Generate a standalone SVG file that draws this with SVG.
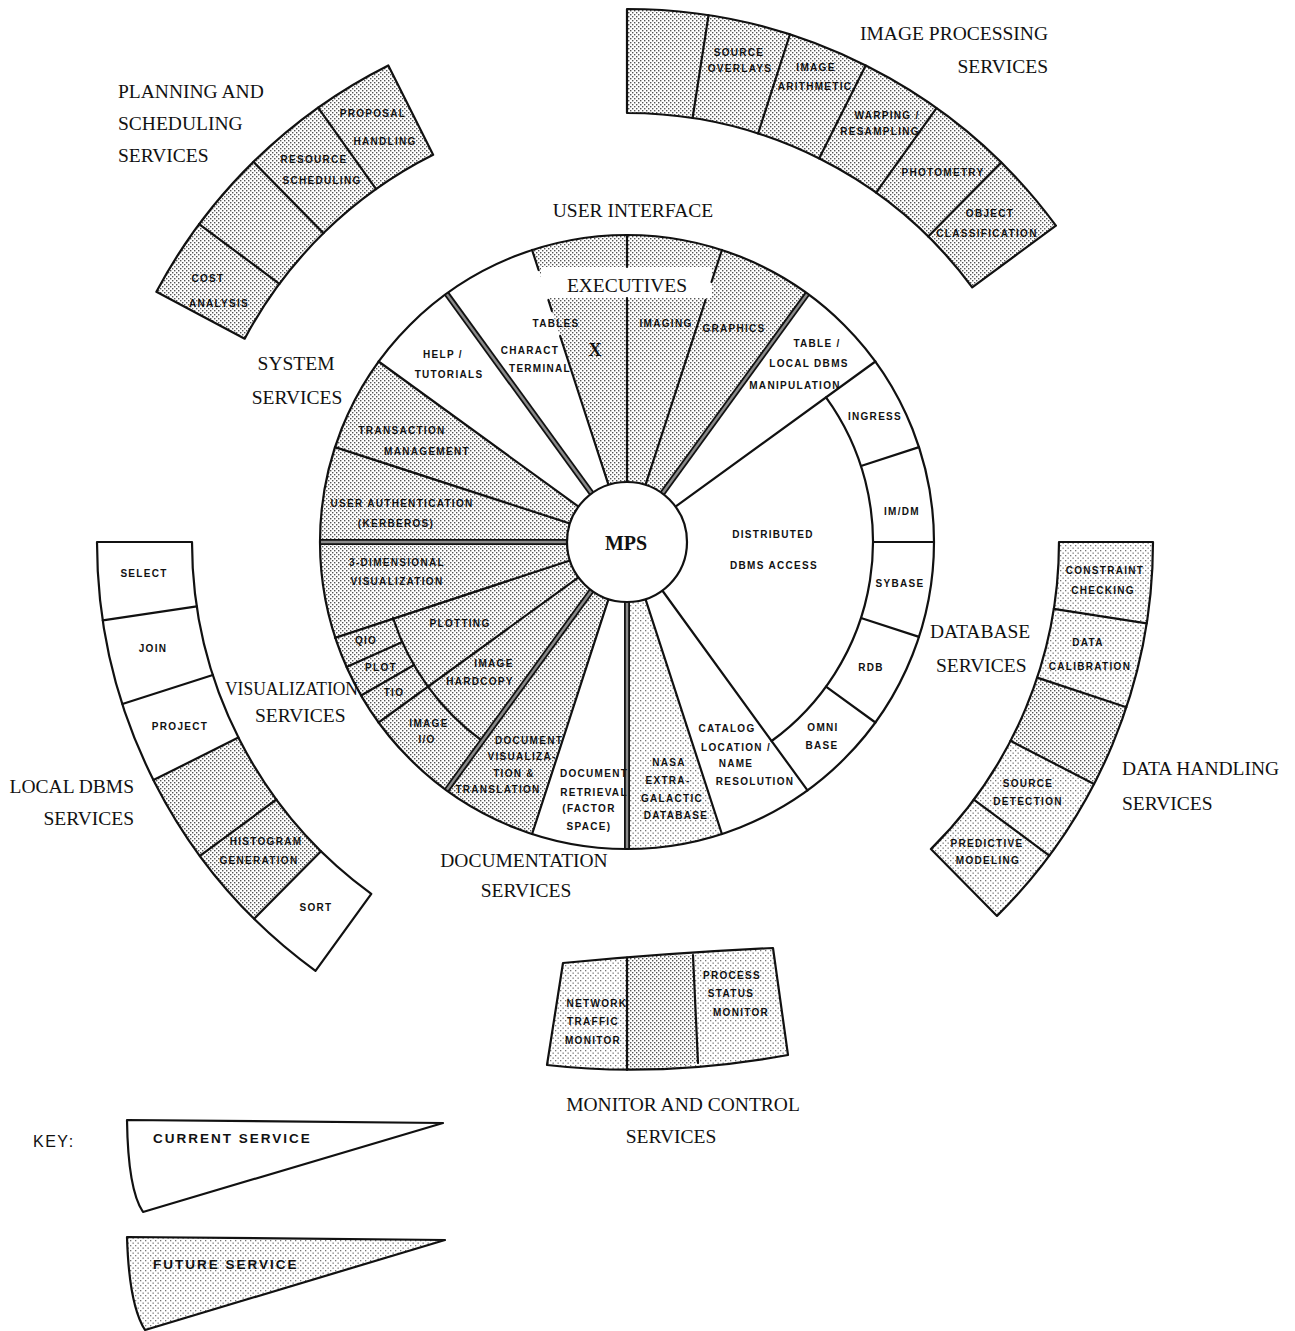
<svg xmlns="http://www.w3.org/2000/svg" width="1295" height="1331" viewBox="0 0 1295 1331">
<defs>
<pattern id="dots" width="4" height="4" patternUnits="userSpaceOnUse"><rect width="4" height="4" fill="#fff"/><rect x="0" y="0" width="1.4" height="1.4" fill="#555"/><rect x="2" y="2" width="1.4" height="1.4" fill="#555"/></pattern>
<pattern id="ldots" width="5" height="5" patternUnits="userSpaceOnUse"><rect width="5" height="5" fill="#fff"/><rect x="0" y="0" width="1.3" height="1.3" fill="#777"/><rect x="2.5" y="2.5" width="1.3" height="1.3" fill="#777"/></pattern>
<style>
.t{font-family:"Liberation Serif","Times New Roman",serif;font-size:19.5px;fill:#111}
.s{font-family:"Liberation Sans",Arial,sans-serif;font-weight:bold;font-size:10px;letter-spacing:1.3px;text-anchor:middle;fill:#111}
.k{font-family:"Liberation Sans",Arial,sans-serif;font-weight:bold;font-size:13.5px;letter-spacing:2px;fill:#111}
.ln{stroke:#111;stroke-width:2.2;fill:none;stroke-linecap:round}
.ol{stroke:#111;stroke-width:2.2;fill:none;stroke-linejoin:round}
.thk{stroke:#111;stroke-width:6;stroke-linecap:butt}
.thi{stroke:#8a8a8a;stroke-width:2.4;stroke-linecap:butt}
.sh{fill:url(#dots);stroke:none}
.lsh{fill:url(#ldots);stroke:none}
.m{text-anchor:middle}
.e{text-anchor:end}
</style>
</defs>
<rect width="1295" height="1331" fill="#fff"/>

<!-- ===== Outer ring: planning and scheduling ===== -->
<g id="planning-ring">
<path class="sh" d="M244.7 338.7 L156.4 291.8 A533 533 0 0 1 388.3 65.4 L433.1 154.8 A433 433 0 0 0 244.7 338.7 Z"/>
<path class="ol" d="M244.7 338.7 L156.4 291.8 A533 533 0 0 1 388.3 65.4 L433.1 154.8 A433 433 0 0 0 244.7 338.7 Z"/>
<line class="ln" x1="279.4" y1="283.8" x2="199.1" y2="224.2"/>
<line class="ln" x1="323.5" y1="233.2" x2="253.4" y2="161.8"/>
<line class="ln" x1="376.1" y1="189.1" x2="318.1" y2="107.6"/>
<g id="proposal-handling"><text class="s" x="373" y="116.5">PROPOSAL</text><text class="s" x="385" y="144.5">HANDLING</text></g>
<g id="resource-scheduling"><text class="s" x="314" y="162.5">RESOURCE</text><text class="s" x="322" y="183.5">SCHEDULING</text></g>
<g id="cost-analysis"><text class="s" x="208" y="281.5">COST</text><text class="s" x="219" y="306.5">ANALYSIS</text></g>
</g>
<g id="planning-title"><text class="t" x="118" y="98">PLANNING AND</text><text class="t" x="118" y="130">SCHEDULING</text><text class="t" x="118" y="162">SERVICES</text></g>

<!-- ===== Outer ring: image processing ===== -->
<g id="image-ring">
<path class="sh" d="M627 113 L627 9 A533 533 0 0 1 1055.9 225.6 L972.2 287.3 A429 429 0 0 0 627 113 Z"/>
<path class="ol" d="M627 113 L627 9 A533 533 0 0 1 1055.9 225.6 L972.2 287.3 A429 429 0 0 0 627 113 Z"/>
<line class="ln" x1="692.6" y1="118" x2="708.5" y2="15.3"/>
<line class="ln" x1="758.1" y1="133.5" x2="789.9" y2="34.5"/>
<line class="ln" x1="819.1" y1="158.4" x2="865.7" y2="65.4"/>
<line class="ln" x1="876.1" y1="192.7" x2="936.5" y2="108.1"/>
<line class="ln" x1="928.2" y1="236.5" x2="1001.2" y2="162.5"/>
<g id="source-overlays"><text class="s" x="739" y="55.5">SOURCE</text><text class="s" x="740" y="71.5">OVERLAYS</text></g>
<g id="image-arithmetic"><text class="s" x="816" y="70.5">IMAGE</text><text class="s" x="815" y="89.5">ARITHMETIC</text></g>
<g id="warping-resampling"><text class="s" x="887" y="118.5">WARPING /</text><text class="s" x="880" y="134.5">RESAMPLING</text></g>
<g id="photometry"><text class="s" x="943" y="175.5">PHOTOMETRY</text></g>
<g id="object-classification"><text class="s" x="990" y="216.5">OBJECT</text><text class="s" x="987" y="236.5">CLASSIFICATION</text></g>
</g>
<g id="image-title"><text class="t e" x="1048" y="40">IMAGE PROCESSING</text><text class="t e" x="1048" y="73">SERVICES</text></g>

<!-- ===== Outer ring: local DBMS ===== -->
<g id="localdbms-ring">
<path class="sh" d="M321 851.2 L254.2 918.7 A530 530 0 0 1 153.5 780.1 L238.4 737.5 A435 435 0 0 0 321 851.2 Z"/>
<path class="ol" d="M371.3 893.9 L315.5 970.8 A530 530 0 0 1 97 542 L192 542 A435 435 0 0 0 371.3 893.9 Z"/>
<line class="ln" x1="196.8" y1="606.3" x2="102.8" y2="620.3"/>
<line class="ln" x1="212.8" y1="675" x2="122.4" y2="704"/>
<line class="ln" x1="238.4" y1="737.5" x2="153.5" y2="780.1"/>
<line class="ln" x1="276.4" y1="799.5" x2="199.9" y2="855.8"/>
<line class="ln" x1="321" y1="851.2" x2="254.2" y2="918.7"/>
<g id="select"><text class="s" x="144" y="576.5">SELECT</text></g>
<g id="join"><text class="s" x="153" y="651.5">JOIN</text></g>
<g id="project"><text class="s" x="180" y="729.5">PROJECT</text></g>
<g id="histogram-generation"><text class="s" x="266" y="844.5">HISTOGRAM</text><text class="s" x="259" y="863.5">GENERATION</text></g>
<g id="sort"><text class="s" x="316" y="910.5">SORT</text></g>
</g>
<g id="localdbms-title"><text class="t e" x="134" y="792.5">LOCAL DBMS</text><text class="t e" x="134" y="824.5">SERVICES</text></g>

<!-- ===== Outer ring: data handling ===== -->
<g id="datahandling-ring">
<path class="lsh" d="M1059 542 L1153 542 A526 526 0 0 1 997 915.9 L930.9 849.1 A432 432 0 0 0 1059 542 Z"/>
<path class="sh" d="M1037.2 677.6 L1126.4 707.2 A526 526 0 0 1 1094 784.1 L1010.5 740.8 A432 432 0 0 0 1037.2 677.6 Z"/>
<path class="ol" d="M1059 542 L1153 542 A526 526 0 0 1 997 915.9 L930.9 849.1 A432 432 0 0 0 1059 542 Z"/>
<line class="ln" x1="1053.8" y1="608.8" x2="1146.7" y2="623.4"/>
<line class="ln" x1="1037.2" y1="677.6" x2="1126.4" y2="707.2"/>
<line class="ln" x1="1010.5" y1="740.8" x2="1094" y2="784.1"/>
<line class="ln" x1="973.8" y1="799.6" x2="1049.3" y2="855.6"/>
<g id="constraint-checking"><text class="s" x="1105" y="573.5">CONSTRAINT</text><text class="s" x="1103" y="593.5">CHECKING</text></g>
<g id="data-calibration"><text class="s" x="1088" y="645.5">DATA</text><text class="s" x="1090" y="669.5">CALIBRATION</text></g>
<g id="source-detection"><text class="s" x="1028" y="786.5">SOURCE</text><text class="s" x="1028" y="804.5">DETECTION</text></g>
<g id="predictive-modeling"><text class="s" x="987" y="846.5">PREDICTIVE</text><text class="s" x="988" y="863.5">MODELING</text></g>
</g>
<g id="datahandling-title"><text class="t" x="1122" y="774.5">DATA HANDLING</text><text class="t" x="1122" y="809.5">SERVICES</text></g>

<!-- ===== Outer ring: monitor and control ===== -->
<g id="monitor-ring">
<path class="lsh" d="M563 963 Q668 953 773 948 L788 1055 Q660 1078 547 1065 Z"/>
<path class="sh" d="M627 957.5 Q660 955 693 955 L698 1063 Q662 1070 627 1070 Z"/>
<path class="ol" d="M563 963 Q668 953 773 948 L788 1055 Q660 1078 547 1065 Z"/>
<line class="ln" x1="627" y1="957.5" x2="627" y2="1070"/>
<line class="ln" x1="693" y1="955" x2="698" y2="1063"/>
<g id="network-traffic-monitor"><text class="s" x="597" y="1006.5">NETWORK</text><text class="s" x="593" y="1024.5">TRAFFIC</text><text class="s" x="593" y="1043.5">MONITOR</text></g>
<g id="process-status-monitor"><text class="s" x="732" y="978.5">PROCESS</text><text class="s" x="731" y="996.5">STATUS</text><text class="s" x="741" y="1015.5">MONITOR</text></g>
</g>
<g id="monitor-title"><text class="t m" x="683" y="1110.5">MONITOR AND CONTROL</text><text class="t m" x="671" y="1142.5">SERVICES</text></g>

<!-- ===== Main wheel ===== -->
<g id="wheel">
<circle cx="627" cy="542" r="307" fill="#fff"/>
<path class="sh" d="M608.5 599.1 L532.1 834 A307 307 0 0 1 378.6 361.5 L578.5 506.7 A60 60 0 0 0 608.5 599.1 Z"/>
<path class="sh" d="M608.5 484.9 L532.1 250 A307 307 0 0 1 807.5 293.6 L662.3 493.5 A60 60 0 0 0 608.5 484.9 Z"/>
<path class="lsh" d="M645.5 599.1 L721.9 834 A307 307 0 0 1 627 849 L627 602 A60 60 0 0 0 645.5 599.1 Z"/>
<rect x="541" y="267" width="171" height="31" fill="#fff"/>
<circle class="ol" cx="627" cy="542" r="307"/>
</g>
<g id="connectors">
<line class="ln" x1="569.9" y1="523.5" x2="335" y2="447.1"/>
<line class="ln" x1="578.5" y1="506.7" x2="378.6" y2="361.5"/>
<line class="ln" x1="608.5" y1="484.9" x2="560.1" y2="336"/>
<line class="ln" x1="551.9" y1="311" x2="548.4" y2="300"/>
<line class="ln" x1="538.6" y1="270" x2="532.1" y2="250"/>
<line class="ln" x1="627" y1="482" x2="627" y2="298"/>
<line class="ln" x1="627" y1="267" x2="627" y2="235"/>
<line class="ln" x1="645.5" y1="484.9" x2="705.6" y2="300"/>
<line class="ln" x1="711.5" y1="282" x2="721.9" y2="250"/>
<line class="ln" x1="675.5" y1="506.7" x2="875.4" y2="361.5"/>
<line class="ln" x1="662.3" y1="590.5" x2="807.5" y2="790.4"/>
<line class="ln" x1="645.5" y1="599.1" x2="721.9" y2="834"/>
<line class="ln" x1="608.5" y1="599.1" x2="532.1" y2="834"/>
<line class="ln" x1="578.5" y1="577.3" x2="378.6" y2="722.5"/>
<line class="ln" x1="569.9" y1="560.5" x2="335" y2="637.9"/>
<line class="ln" x1="861" y1="466" x2="919" y2="447.1"/>
<line class="ln" x1="873" y1="542" x2="934" y2="542"/>
<line class="ln" x1="861" y1="618" x2="919" y2="636.9"/>
<line class="ln" x1="826" y1="686.6" x2="875.4" y2="722.5"/>
<line class="ln" x1="414" y1="665" x2="361.1" y2="695.5"/>
<line class="ln" x1="402.3" y1="642.1" x2="346.5" y2="666.9"/>
<path class="ln" d="M826 397.4 A246 246 0 0 1 771.6 741"/>
<path class="ln" d="M482.4 741 A246 246 0 0 1 393 618"/>
<line class="thk" x1="567" y1="542" x2="320" y2="542"/>
<line class="thk" x1="591.7" y1="493.5" x2="446.5" y2="293.6"/>
<line class="thk" x1="662.3" y1="493.5" x2="807.5" y2="293.6"/>
<line class="thk" x1="627" y1="602" x2="627" y2="849"/>
<line class="thk" x1="591.7" y1="590.5" x2="446.5" y2="790.4"/>
<line class="thi" x1="567" y1="542" x2="321" y2="542"/>
<line class="thi" x1="591.7" y1="493.5" x2="447" y2="294.4"/>
<line class="thi" x1="662.3" y1="493.5" x2="807" y2="294.4"/>
<line class="thi" x1="627" y1="602" x2="627" y2="848"/>
<line class="thi" x1="591.7" y1="590.5" x2="447" y2="789.6"/>
</g>

<g id="mps"><circle cx="627" cy="542" r="60" fill="#fff" stroke="#111" stroke-width="2.2"/><text x="626" y="550" text-anchor="middle" font-family="'Liberation Serif','Times New Roman',serif" font-weight="bold" font-size="20" fill="#111">MPS</text></g>

<g id="executives"><text class="t m" x="627" y="292">EXECUTIVES</text></g>
<g id="user-interface-title"><text class="t m" x="633" y="217">USER INTERFACE</text></g>
<g id="system-title"><text class="t m" x="296" y="370">SYSTEM</text><text class="t m" x="297" y="404">SERVICES</text></g>
<g id="database-title"><text class="t" x="930" y="638">DATABASE</text><text class="t" x="936" y="672">SERVICES</text></g>
<g id="visualization-title"><text class="t" x="225" y="695" textLength="133" lengthAdjust="spacingAndGlyphs">VISUALIZATION</text><text class="t" x="255" y="722">SERVICES</text></g>
<g id="documentation-title"><text class="t m" x="524" y="866.5">DOCUMENTATION</text><text class="t m" x="526" y="896.5">SERVICES</text></g>

<g id="help-tutorials"><text class="s" x="443" y="357.5">HELP /</text><text class="s" x="449" y="377.5">TUTORIALS</text></g>
<g id="charact-terminal"><text class="s" x="530" y="353.5">CHARACT</text><text class="s" x="540" y="371.5">TERMINAL</text></g>
<g id="tables"><text class="s" x="556" y="326.5">TABLES</text><text x="595" y="356" text-anchor="middle" font-family="'Liberation Serif','Times New Roman',serif" font-weight="bold" font-size="18" fill="#111">X</text></g>
<g id="transaction-management"><text class="s" x="402" y="433.5">TRANSACTION</text><text class="s" x="427" y="454.5">MANAGEMENT</text></g>
<g id="user-authentication"><text class="s" x="402" y="506.5">USER AUTHENTICATION</text><text class="s" x="396" y="526.5">(KERBEROS)</text></g>
<g id="three-d-visualization"><text class="s" x="397" y="565.5">3-DIMENSIONAL</text><text class="s" x="397" y="584.5">VISUALIZATION</text></g>
<g id="plotting"><text class="s" x="460" y="626.5">PLOTTING</text></g>
<g id="qio"><text class="s" x="366" y="643.5">QIO</text></g>
<g id="plot"><text class="s" x="381" y="670.5">PLOT</text></g>
<g id="tio"><text class="s" x="394" y="695.5">TIO</text></g>
<g id="image-hardcopy"><text class="s" x="494" y="666.5">IMAGE</text><text class="s" x="480" y="684.5">HARDCOPY</text></g>
<g id="image-io"><text class="s" x="429" y="726.5">IMAGE</text><text class="s" x="427" y="742.5">I/O</text></g>
<g id="document-visualization"><text class="s" x="529" y="743.5">DOCUMENT</text><text class="s" x="522" y="759.5">VISUALIZA-</text><text class="s" x="514" y="776.5">TION &amp;</text><text class="s" x="498" y="792.5">TRANSLATION</text></g>
<g id="document-retrieval"><text class="s" x="594" y="776.5">DOCUMENT</text><text class="s" x="594" y="795.5">RETRIEVAL</text><text class="s" x="589" y="811.5">(FACTOR</text><text class="s" x="589" y="829.5">SPACE)</text></g>
<g id="nasa-extragalactic"><text class="s" x="669" y="765.5">NASA</text><text class="s" x="668" y="783.5">EXTRA-</text><text class="s" x="672" y="801.5">GALACTIC</text><text class="s" x="676" y="818.5">DATABASE</text></g>
<g id="catalog-location"><text class="s" x="727" y="731.5">CATALOG</text><text class="s" x="736" y="750.5">LOCATION /</text><text class="s" x="736" y="766.5">NAME</text><text class="s" x="755" y="784.5">RESOLUTION</text></g>
<g id="omnibase"><text class="s" x="823" y="730.5">OMNI</text><text class="s" x="822" y="748.5">BASE</text></g>
<g id="rdb"><text class="s" x="871" y="670.5">RDB</text></g>
<g id="sybase"><text class="s" x="900" y="586.5">SYBASE</text></g>
<g id="imdm"><text class="s" x="902" y="514.5">IM/DM</text></g>
<g id="ingress"><text class="s" x="875" y="419.5">INGRESS</text></g>
<g id="distributed-dbms"><text class="s" x="773" y="537.5">DISTRIBUTED</text><text class="s" x="774" y="568.5">DBMS ACCESS</text></g>
<g id="table-local-dbms"><text class="s" x="817" y="346.5">TABLE /</text><text class="s" x="809" y="366.5">LOCAL DBMS</text><text class="s" x="795" y="388.5">MANIPULATION</text></g>
<g id="imaging"><text class="s" x="666" y="326.5">IMAGING</text></g>
<g id="graphics"><text class="s" x="734" y="331.5">GRAPHICS</text></g>

<!-- ===== Key ===== -->
<g id="key">
<text x="33" y="1147" font-family="'Liberation Sans',Arial,sans-serif" font-size="16" letter-spacing="1.5" fill="#111">KEY:</text>
<g id="key-current"><path class="ol" d="M127 1120 L443 1123 L143 1212 Q128 1190 127 1120 Z" fill="#fff"/><text class="k" x="153" y="1143">CURRENT SERVICE</text></g>
<g id="key-future"><path d="M127 1237 L445 1240 L145 1330 Q129 1305 127 1237 Z" fill="url(#ldots)"/><path class="ol" d="M127 1237 L445 1240 L145 1330 Q129 1305 127 1237 Z"/><text class="k" x="153" y="1269">FUTURE SERVICE</text></g>
</g>
</svg>
